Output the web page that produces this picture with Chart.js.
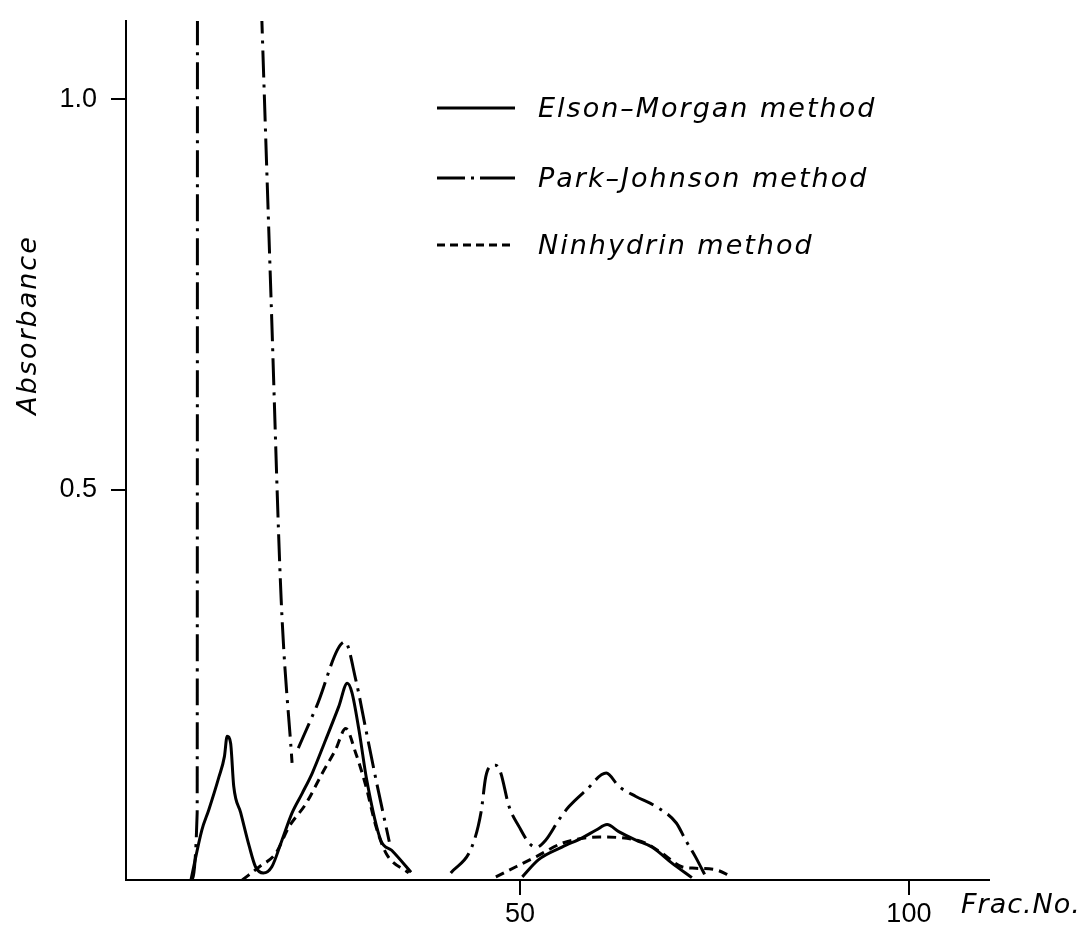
<!DOCTYPE html>
<html>
<head>
<meta charset="utf-8">
<script src="https://cdn.jsdelivr.net/npm/chart.js@4"></script>
<style>
  body { margin: 0; background: #fff; }
  #wrap { width: 1085px; height: 925px; }
</style>
</head>
<body>
<div id="wrap"><canvas id="fracChart" width="1085" height="925"></canvas></div>
<script>
// fraction numbers and absorbance (null = break in the pen line)
const emFrac = [7.7, 9.1, 10.0, 11.3, 12.0, 12.35, 12.8, 13.2, 14.1, 15.2, 16.0, 17.0, 18.1, 19.4, 20.7, 22.0, 23.3, 25.0, 26.7, 27.8, 28.4, 29.3, 30.3, 32.1, 33.5, 36.0,
                43.0, 50.3, 52.4, 55.4, 58.0, 59.8, 61.2, 62.7, 64.9, 67.0, 69.5, 72.1];
const emAbs  = [0.0, 0.064, 0.09, 0.132, 0.158, 0.184, 0.175, 0.12, 0.086, 0.043, 0.017, 0.009, 0.017, 0.051, 0.086, 0.111, 0.137, 0.179, 0.222, 0.252, 0.24, 0.192, 0.128, 0.051, 0.038, 0.01,
                null, 0.004, 0.026, 0.042, 0.054, 0.064, 0.071, 0.062, 0.051, 0.042, 0.022, 0.003];

// first peak of Park-Johnson runs off the top of the sheet
const pjFrac = [7.7, 8.5, 8.6, 16.8, 18.0, 19.3, 20.7,
                21.1, 21.5, 23.8, 27.5, 28.9, 30.2, 31.5, 33.2,
                37.0, 41.1, 43.8, 45.0, 45.6, 46.3, 46.9, 47.5, 48.6, 49.9, 51.2, 52.1, 53.3, 55.0, 56.3, 58.5, 61.1, 62.7, 64.9, 67.5, 70.1, 71.3, 72.6, 73.9];
const pjAbs  = [0.0, 0.086, 3.6, 1.106, 0.744, 0.359, 0.15,
                null, 0.169, 0.221, 0.305, 0.256, 0.192, 0.128, 0.049,
                null, 0.009, 0.042, 0.087, 0.132, 0.146, 0.147, 0.138, 0.094, 0.068, 0.047, 0.042, 0.051, 0.077, 0.094, 0.115, 0.137, 0.12, 0.107, 0.094, 0.073, 0.051, 0.029, 0.004];

const ninFrac = [14.3, 16.5, 18.6, 20.3, 22.5, 24.6, 26.3, 27.6, 28.9, 30.2, 31.5, 32.8, 35.7,
                 40.0, 46.9, 49.5, 52.1, 55.4, 58.5, 60.2, 63.1, 66.2, 68.3, 70.8, 72.6, 75.2, 76.9];
const ninAbs  = [0.0, 0.017, 0.034, 0.068, 0.098, 0.137, 0.167, 0.194, 0.162, 0.12, 0.068, 0.034, 0.009,
                 null, 0.004, 0.017, 0.03, 0.047, 0.054, 0.055, 0.054, 0.047, 0.034, 0.017, 0.015, 0.013, 0.006];

const seriesNames = ['Elson\u2013Morgan method', 'Park\u2013Johnson method', 'Ninhydrin method'];
const xTicks = [50, 100];
const yTicks = [0.5, 1.0];

function toPoints(xs, ys) {
    return xs.map((x, i) => ({ x: x, y: ys[i] }));
}

const italicFont = 'italic 27px "DejaVu Sans", sans-serif';

const decorPlugin = {
    id: 'decor',
    afterDraw(chart) {
        const c = chart.ctx;
        c.save();
        c.fillStyle = '#000';
        c.strokeStyle = '#000';
        c.font = italicFont;
        c.letterSpacing = '2px';

        // y axis title
        c.save();
        c.translate(29, 325);
        c.rotate(-Math.PI / 2);
        c.textAlign = 'center';
        c.textBaseline = 'middle';
        c.fillText('Absorbance', 0, 0);
        c.restore();

        // x axis title
        c.letterSpacing = '1px';
        c.textAlign = 'left';
        c.textBaseline = 'middle';
        c.fillText('Frac.No.', 961, 906);

        // legend
        c.letterSpacing = '2px';
        const rowsY = [108, 178, 245];
        const legendDash = [[], [28, 6, 3, 6, 40], [8, 5]];
        chart.data.datasets.forEach((ds, i) => {
            c.beginPath();
            c.lineWidth = 3;
            c.setLineDash(legendDash[i]);
            c.moveTo(437, rowsY[i]);
            c.lineTo(515, rowsY[i]);
            c.stroke();
            c.setLineDash([]);
            c.fillText(ds.label, 538, rowsY[i] + 2);
        });
        c.restore();
    }
};

// keep tick labels from pushing the plot area around
function noScalePadding(scale) {
    scale.paddingTop = 0;
    scale.paddingBottom = 0;
    scale.paddingLeft = 0;
    scale.paddingRight = 0;
}

const ctx = document.getElementById('fracChart').getContext('2d');
const chart = new Chart(ctx, {
    type: 'line',
    data: {
        datasets: [
            { label: seriesNames[0], data: toPoints(emFrac, emAbs), borderColor: '#000', borderWidth: 3,
              cubicInterpolationMode: 'monotone' },
            { label: seriesNames[1], data: toPoints(pjFrac, pjAbs), borderColor: '#000', borderWidth: 3,
              borderDash: [27, 7, 3, 7], cubicInterpolationMode: 'monotone' },
            { label: seriesNames[2], data: toPoints(ninFrac, ninAbs), borderColor: '#000', borderWidth: 3,
              borderDash: [9, 6], cubicInterpolationMode: 'monotone' }
        ]
    },
    options: {
        responsive: false,
        animation: false,
        devicePixelRatio: 1,
        spanGaps: false,
        elements: { point: { radius: 0, hoverRadius: 0 }, line: { fill: false } },
        layout: { padding: { left: 0, top: 21, right: 96, bottom: 0 } },
        plugins: { legend: { display: false }, tooltip: { enabled: false } },
        scales: {
            x: {
                type: 'linear',
                min: -0.65,
                max: 110.3,
                afterFit: (scale) => { scale.height = 45; noScalePadding(scale); },
                afterBuildTicks: (scale) => { scale.ticks = xTicks.map(v => ({ value: v })); },
                grid: { drawOnChartArea: false, drawTicks: true, tickLength: 15, color: '#000', lineWidth: 2 },
                border: { display: true, color: '#000', width: 2 },
                ticks: { color: '#000', padding: 3, maxRotation: 0, font: { family: '"Liberation Sans", sans-serif', size: 27 },
                         callback: (v) => String(v) }
            },
            y: {
                type: 'linear',
                min: 0,
                max: 1.1,
                afterFit: (scale) => { scale.width = 126; noScalePadding(scale); },
                afterBuildTicks: (scale) => { scale.ticks = yTicks.map(v => ({ value: v })); },
                grid: { drawOnChartArea: false, drawTicks: true, tickLength: 15, color: '#000', lineWidth: 2 },
                border: { display: true, color: '#000', width: 2 },
                ticks: { color: '#000', padding: 14, font: { family: '"Liberation Sans", sans-serif', size: 27 },
                         callback: (v) => v.toFixed(1) }
            }
        }
    },
    plugins: [decorPlugin]
});
</script>
</body>
</html>
